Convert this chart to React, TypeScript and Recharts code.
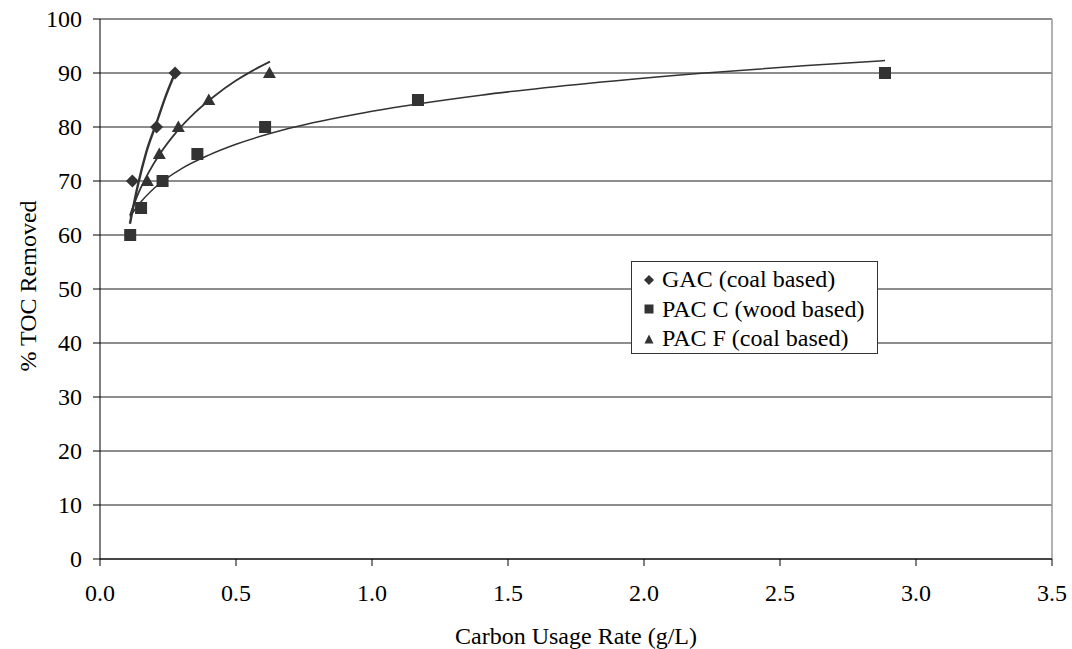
import React from 'react';
import { ScatterChart, Scatter, XAxis, YAxis, CartesianGrid, ReferenceLine, Legend, Label } from 'recharts';

const FONT = "'Liberation Serif', 'Times New Roman', Times, serif";
const INK = '#333333';

const xTicks = [0, 0.5, 1, 1.5, 2, 2.5, 3, 3.5];
const yTicks = [0, 10, 20, 30, 40, 50, 60, 70, 80, 90, 100];

const seriesNames = ['GAC (coal based)', 'PAC C (wood based)', 'PAC F (coal based)'];

// measured points
const gacPoints = [
  { x: 0.119, y: 70 },
  { x: 0.208, y: 80 },
  { x: 0.276, y: 90 },
];
const pacCPoints = [
  { x: 0.111, y: 60 },
  { x: 0.151, y: 65 },
  { x: 0.23, y: 70 },
  { x: 0.358, y: 75 },
  { x: 0.607, y: 80 },
  { x: 1.169, y: 85 },
  { x: 2.886, y: 90 },
];
const pacFPoints = [
  { x: 0.174, y: 70 },
  { x: 0.218, y: 75 },
  { x: 0.288, y: 80 },
  { x: 0.4, y: 85 },
  { x: 0.623, y: 90 },
];

// trendline points
const gacTrend = [
  { x: 0.11, y: 62.1 },
  { x: 0.14, y: 69.4 },
  { x: 0.17, y: 75.3 },
  { x: 0.208, y: 80.8 },
  { x: 0.24, y: 85.5 },
  { x: 0.276, y: 90.0 },
];
const pacCTrend = [
  { x: 0.11, y: 63.4 },
  { x: 0.15, y: 66.1 },
  { x: 0.2, y: 68.7 },
  { x: 0.3, y: 72.3 },
  { x: 0.4, y: 74.8 },
  { x: 0.5, y: 76.8 },
  { x: 0.7, y: 79.8 },
  { x: 1.0, y: 82.9 },
  { x: 1.4, y: 85.9 },
  { x: 1.8, y: 88.1 },
  { x: 2.2, y: 89.9 },
  { x: 2.6, y: 91.4 },
  { x: 2.886, y: 92.3 },
];
const pacFTrend = [
  { x: 0.11, y: 63.6 },
  { x: 0.14, y: 67.6 },
  { x: 0.18, y: 71.7 },
  { x: 0.22, y: 75.0 },
  { x: 0.28, y: 79.0 },
  { x: 0.35, y: 82.7 },
  { x: 0.42, y: 85.7 },
  { x: 0.5, y: 88.6 },
  { x: 0.56, y: 90.4 },
  { x: 0.625, y: 92.1 },
];

const Diamond = (p: any) => {
  const { cx, cy } = p;
  const r = 6.5;
  return <polygon points={`${cx},${cy - r} ${cx + r},${cy} ${cx},${cy + r} ${cx - r},${cy}`} fill={INK} />;
};
const Square = (p: any) => {
  const { cx, cy } = p;
  return <rect x={cx - 6} y={cy - 6} width={12} height={12} fill={INK} />;
};
const Triangle = (p: any) => {
  const { cx, cy } = p;
  return <polygon points={`${cx},${cy - 6.5} ${cx + 6.5},${cy + 5} ${cx - 6.5},${cy + 5}`} fill={INK} />;
};
const NoDot = () => <g />;

const legendMarkers = [
  <polygon key="d" points="5,0 10,5 5,10 0,5" fill={INK} />,
  <rect key="s" x={0.5} y={0.5} width={9} height={9} fill={INK} />,
  <polygon key="t" points="5,0.5 9.5,9.5 0.5,9.5" fill={INK} />,
];

const LegendBox = () => (
  <div
    style={{
      position: 'absolute',
      left: 0,
      top: 0,
      width: 245,
      height: 88,
      border: `1px solid ${INK}`,
      background: '#fff',
      fontFamily: FONT,
      fontSize: 24,
      lineHeight: '29px',
      color: '#000',
      boxSizing: 'content-box',
      paddingTop: 3,
      textAlign: 'left',
    }}
  >
    {seriesNames.map((n, i) => (
      <div key={n} style={{ display: 'flex', alignItems: 'center', height: 29.5, paddingLeft: 12, whiteSpace: 'nowrap' }}>
        <svg width={10} height={10} style={{ marginRight: 8, flex: 'none' }}>
          {legendMarkers[i]}
        </svg>
        <span style={{ fontFamily: FONT }}>{n}</span>
      </div>
    ))}
  </div>
);

const XTick = (p: any) => {
  const { x, y, payload } = p;
  return (
    <text x={x} y={y} dy="0.75em" textAnchor="middle" style={{ fontFamily: FONT, fontSize: 24 }} fill="#000">
      {Number(payload.value).toFixed(1)}
    </text>
  );
};
const YTick = (p: any) => {
  const { x, y, payload } = p;
  return (
    <text x={x} y={y} dy="0.35em" textAnchor="end" style={{ fontFamily: FONT, fontSize: 24 }} fill="#000">
      {payload.value}
    </text>
  );
};

export default function App() {
  return (
    <div style={{ position: 'absolute', left: 0, top: 0, width: 1072, height: 649, background: '#fff', fontFamily: FONT }}>
      <ScatterChart width={1072} height={649} margin={{ top: 19, right: 20, bottom: 0, left: 0 }} style={{ fontFamily: FONT }}>
        <CartesianGrid horizontal vertical={false} stroke="#1a1a1a" strokeWidth={1} />
        <XAxis
          type="number"
          dataKey="x"
          domain={[0, 3.5]}
          ticks={xTicks}
          interval={0}
          allowDataOverflow
          tick={<XTick />}
          tickSize={7}
          tickMargin={17}
          height={90}
          axisLine={{ stroke: '#000' }}
          tickLine={{ stroke: '#000' }}
        >
          <Label
            content={(props: any) => {
              const vb = props.viewBox || {};
              return (
                <text x={vb.x + vb.width / 2} y={vb.y + 85} textAnchor="middle" style={{ fontFamily: FONT, fontSize: 24 }} fill="#000">
                  Carbon Usage Rate (g/L)
                </text>
              );
            }}
          />
        </XAxis>
        <YAxis
          type="number"
          dataKey="y"
          domain={[0, 100]}
          ticks={yTicks}
          interval={0}
          tick={<YTick />}
          tickSize={7}
          tickMargin={11}
          width={100}
          axisLine={{ stroke: '#000' }}
          tickLine={{ stroke: '#000' }}
        >
          <Label
            content={(props: any) => {
              const vb = props.viewBox || {};
              const cy = vb.y + vb.height / 2 - 3;
              const cx = 28;
              return (
                <text
                  x={cx}
                  y={cy}
                  transform={`rotate(-90, ${cx}, ${cy})`}
                  textAnchor="middle"
                  dominantBaseline="central"
                  style={{ fontFamily: FONT, fontSize: 24 }}
                  fill="#000"
                >
                  % TOC Removed
                </text>
              );
            }}
          />
        </YAxis>
        <ReferenceLine x={3.5} stroke="#999" strokeWidth={1.5} ifOverflow="visible" />

        <Scatter name="gacTrend" data={gacTrend} shape={NoDot} line={{ stroke: INK, strokeWidth: 2.4 }} lineJointType="monotoneX" legendType="none" isAnimationActive={false} />
        <Scatter name="pacCTrend" data={pacCTrend} shape={NoDot} line={{ stroke: INK, strokeWidth: 1.5 }} lineJointType="monotoneX" legendType="none" isAnimationActive={false} />
        <Scatter name="pacFTrend" data={pacFTrend} shape={NoDot} line={{ stroke: INK, strokeWidth: 1.8 }} lineJointType="monotoneX" legendType="none" isAnimationActive={false} />

        <Scatter name={seriesNames[0]} data={gacPoints} fill={INK} shape={Diamond} isAnimationActive={false} />
        <Scatter name={seriesNames[2]} data={pacFPoints} fill={INK} shape={Triangle} isAnimationActive={false} />
        <Scatter name={seriesNames[1]} data={pacCPoints} fill={INK} shape={Square} isAnimationActive={false} />

        <Legend
          content={() => <LegendBox />}
          wrapperStyle={{ position: 'absolute', left: 631, top: 261, width: 0, height: 0, bottom: 'auto', overflow: 'visible' }}
        />
      </ScatterChart>
    </div>
  );
}
